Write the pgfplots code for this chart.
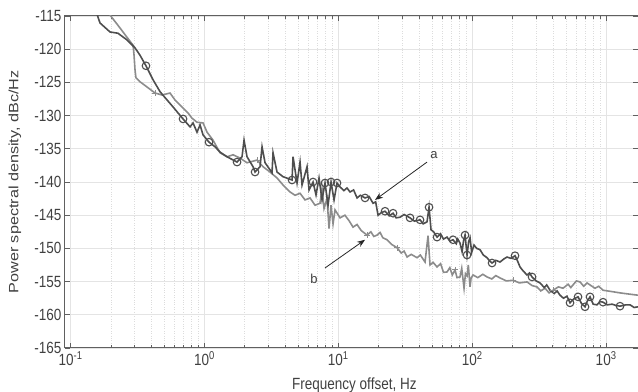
\documentclass[border=0pt]{standalone}
\usepackage{pgfplots}
\pgfplotsset{compat=1.18}
\usepackage{pgfplotstable}
\usetikzlibrary{arrows.meta}
\usepackage{fontspec}
\setmainfont{Liberation Sans}
\definecolor{darkc}{HTML}{4E4E4E}
\definecolor{lightc}{HTML}{8C8C8C}
\definecolor{axc}{HTML}{606060}
\definecolor{txtc}{HTML}{404040}
\definecolor{gridc}{HTML}{E4E4E4}
\definecolor{mgridc}{HTML}{DCDCDC}

\pgfplotstableread{
f v
0.158 -114.8
0.166 -116.05
0.197 -117.4
0.226 -117.6
0.264 -118.6
0.303 -119.8
0.330 -120.9
0.366 -122.5
0.413 -124.6
0.466 -126.4
0.526 -127.65
0.583 -128.7
0.635 -129.6
0.692 -130.5
0.781 -131.7
0.822 -131.1
0.880 -132.5
0.927 -131.4
0.976 -132.9
1.082 -134.0
1.200 -134.7
1.308 -135.5
1.475 -136.2
1.752 -137.0
1.909 -136.2
1.976 -133.7
2.080 -136.2
2.307 -137.7
2.388 -138.5
2.602 -137.7
2.693 -134.7
2.836 -137.1
3.198 -138.6
3.253 -135.6
3.485 -138.5
3.864 -139.2
4.511 -139.7
4.590 -136.2
4.916 -140.15
5.176 -137.0
5.357 -140.45
5.837 -137.7
6.042 -141.2
6.471 -140.0
6.813 -141.95
7.174 -139.4
7.554 -142.7
7.954 -140.15
8.378 -143.5
8.822 -140.0
9.288 -142.7
9.779 -140.15
10.30 -140.75
11.0 -141.3
11.6 -140.9
12.23 -141.5
13.0 -141.2
13.80 -142.4
14.6 -142.0
15.83 -142.4
17.0 -142.2
18.16 -143.2
19.0 -143.0
19.80 -145.0
21.0 -144.6
22.33 -144.4
24.0 -145.1
25.62 -144.7
27.0 -145.4
28.90 -145.3
31.0 -144.9
34.32 -145.4
37.0 -145.9
40.76 -145.7
43.0 -146.3
45.96 -146.0
47.58 -143.8
49.24 -147.2
51.5 -147.5
54.60 -148.3
58.0 -147.8
61.0 -148.6
64.83 -148.3
68.0 -148.9
71.89 -148.7
76.0 -149.3
78.0 -148.6
81.06 -149.2
84.0 -150.5
86.0 -148.9
88.36 -148.0
91.46 -151.0
94.0 -149.0
96.3 -148.4
99.0 -150.6
103.1 -149.5
108.0 -150.0
114.4 -150.2
121.0 -151.0
129.0 -151.4
135.0 -151.9
140.6 -152.2
150.0 -151.8
161.3 -152.05
172.0 -151.6
181.9 -151.3
195.0 -151.5
208.7 -151.1
218.0 -151.9
227.5 -152.8
240.0 -153.4
256.6 -154.0
268.0 -153.7
279.7 -154.3
300.0 -154.9
321.0 -155.2
345.0 -155.9
360.0 -155.5
381.1 -156.3
410.0 -156.8
430.0 -156.4
452.5 -157.05
480.0 -157.5
510.0 -157.2
537.5 -158.2
575.0 -157.6
616.9 -157.3
655.0 -158.3
695.8 -158.8
725.0 -157.9
758.3 -157.3
800.0 -158.4
855.1 -158.5
900.0 -158.0
948 -158.1
1020 -158.5
1107 -158.4
1190 -158.6
1270 -158.7
1400 -158.5
1508 -158.5
1620 -158.9
1730 -158.8
}\curveA

\pgfplotstableread{
f v
0.366 -122.5
0.692 -130.5
1.082 -134.0
1.752 -137.0
2.388 -138.5
4.511 -139.7
6.471 -140.0
7.954 -140.15
8.822 -140.0
9.779 -140.15
15.83 -142.4
22.33 -144.4
25.62 -144.7
34.32 -145.4
40.76 -145.7
47.58 -143.8
54.60 -148.3
71.89 -148.7
88.36 -148.0
91.46 -151.0
140.6 -152.2
208.7 -151.1
279.7 -154.3
537.5 -158.2
616.9 -157.3
695.8 -158.8
758.3 -157.3
948 -158.1
1270 -158.7
}\circlesA

\pgfplotstableread{
f v
0.197 -114.85
0.226 -116.4
0.264 -118.2
0.293 -119.4
0.298 -120.9
0.303 -123.1
0.308 -124.3
0.330 -124.9
0.373 -125.7
0.428 -126.6
0.482 -126.9
0.553 -126.6
0.603 -127.65
0.680 -128.7
0.754 -129.6
0.808 -130.4
0.880 -131.0
0.976 -131.1
1.046 -132.5
1.159 -133.7
1.308 -135.6
1.475 -136.2
1.635 -135.9
1.845 -136.4
2.080 -137.1
2.471 -136.7
2.740 -137.7
3.090 -138.5
3.485 -139.4
3.864 -140.45
4.358 -141.5
4.750 -142.0
5.176 -141.7
5.640 -142.7
6.146 -142.4
6.699 -143.5
7.300 -143.2
7.554 -141.0
7.820 -144.0
8.235 -142.5
8.522 -147.0
8.822 -143.5
9.129 -146.3
9.447 -144.2
10.30 -145.4
11.2 -145.0
12.0 -145.8
12.88 -146.8
13.8 -146.4
14.8 -147.3
16.39 -148.0
17.5 -147.5
18.4 -148.2
19.45 -148.0
20.5 -147.6
21.5 -148.4
23.11 -148.7
25.0 -149.4
27.45 -149.9
29.5 -150.7
31.0 -150.4
32.60 -151.3
35.0 -150.9
38.71 -151.4
41.0 -151.0
44.41 -152.05
46.76 -148.1
48.40 -152.5
51.0 -152.1
54.60 -152.8
58.0 -152.3
61.0 -153.6
64.83 -153.55
68.0 -152.9
71.0 -154.0
74.40 -153.25
77.0 -154.4
81.06 -154.3
83.5 -153.0
86.86 -156.0
89.0 -153.8
91.46 -154.15
93.5 -152.5
96.3 -155.8
98.0 -154.5
101.4 -154.0
110 -154.4
120 -153.9
129.0 -154.3
140 -154.6
150 -154.1
161.3 -154.45
180 -154.9
201.7 -154.8
225 -155.2
256.6 -155.05
280 -155.6
304.7 -155.8
325 -156.4
349.7 -156.0
375 -156.7
401.4 -156.3
440 -155.8
476.6 -156.0
520 -155.4
545 -155.9
565.8 -155.5
600 -154.9
638.4 -155.05
680 -155.7
720.2 -155.2
770 -155.6
826.3 -156.0
880 -155.7
948 -156.3
1100 -156.5
1270 -156.7
1508 -156.9
1730 -157.05
}\curveB

\pgfplotstableread{
f v
0.428 -126.6
2.471 -136.7
16.39 -148.0
27.45 -149.9
74.40 -153.25
201.7 -154.8
401.4 -156.3
}\plusB

\begin{document}
\begin{tikzpicture}
\begin{axis}[
  scale only axis, width=573pt, height=332pt,
  xmode=log, xmin=0.0909, xmax=1730, ymin=-165, ymax=-115,
  ytick={-165,-160,...,-115},
  xtick={0.1,1,10,100,1000},
  xticklabels={{\scalebox{1}[1.2]{10\textsuperscript{-1}}},{\scalebox{1}[1.2]{10\textsuperscript{0}}},{\scalebox{1}[1.2]{10\textsuperscript{1}}},{\scalebox{1}[1.2]{10\textsuperscript{2}}},{\scalebox{1}[1.2]{10\textsuperscript{3}}}},
  yticklabel={\scalebox{1}[1.2]{\pgfmathprintnumber[assume math mode=true]{\tick}}},
  xmajorgrids, ymajorgrids, xminorgrids,
  major grid style={gridc, line width=0.8pt},
  minor grid style={mgridc, dotted, line width=0.6pt},
  axis line style={axc, line width=1pt},
  tick style={axc, line width=0.7pt},
  major tick length=5pt, minor tick length=3pt,
  tick align=inside,
  tick label style={font=\fontsize{13.5}{15}\selectfont, text=txtc},
  xlabel={\scalebox{1}[1.2]{Frequency offset, Hz}},
  ylabel={\scalebox{1.2}[1]{Power spectral density, dBc/Hz}},
  label style={font=\fontsize{13.5}{15}\selectfont, text=txtc},
  xlabel style={at={(axis description cs:0.505,-0.1114)}, anchor=center},
  ylabel style={at={(axis description cs:-0.0873,0.5)}, anchor=center},
  clip=true,
]
\addplot[lightc, line width=1.6pt] table[x=f,y=v] {\curveB};
\addplot[only marks, mark=+, mark size=3pt, lightc, line width=1pt] table[x=f,y=v] {\plusB};
\addplot[darkc, line width=1.6pt] table[x=f,y=v] {\curveA};
\addplot[only marks, mark=o, mark size=3.8pt, darkc, line width=1.1pt] table[x=f,y=v] {\circlesA};
\draw[-{Stealth[length=8pt,width=6pt]}, black!85, line width=0.8pt] (axis cs:45.96,-137.0) -- (axis cs:18.8,-142.7);
\draw[-{Stealth[length=8pt,width=6pt]}, black!85, line width=0.8pt] (axis cs:7.95,-152.95) -- (axis cs:15.83,-148.7);
\node[font=\fontsize{13}{15}\selectfont, text=txtc] at (axis cs:51.8,-135.9) {a};
\node[font=\fontsize{13}{15}\selectfont, text=txtc] at (axis cs:6.58,-154.6) {b};
\end{axis}
\pgfresetboundingbox
\path ([xshift=-65pt,yshift=-44pt]current axis.south west) rectangle ([yshift=16pt]current axis.north east);
\end{tikzpicture}
\end{document}
